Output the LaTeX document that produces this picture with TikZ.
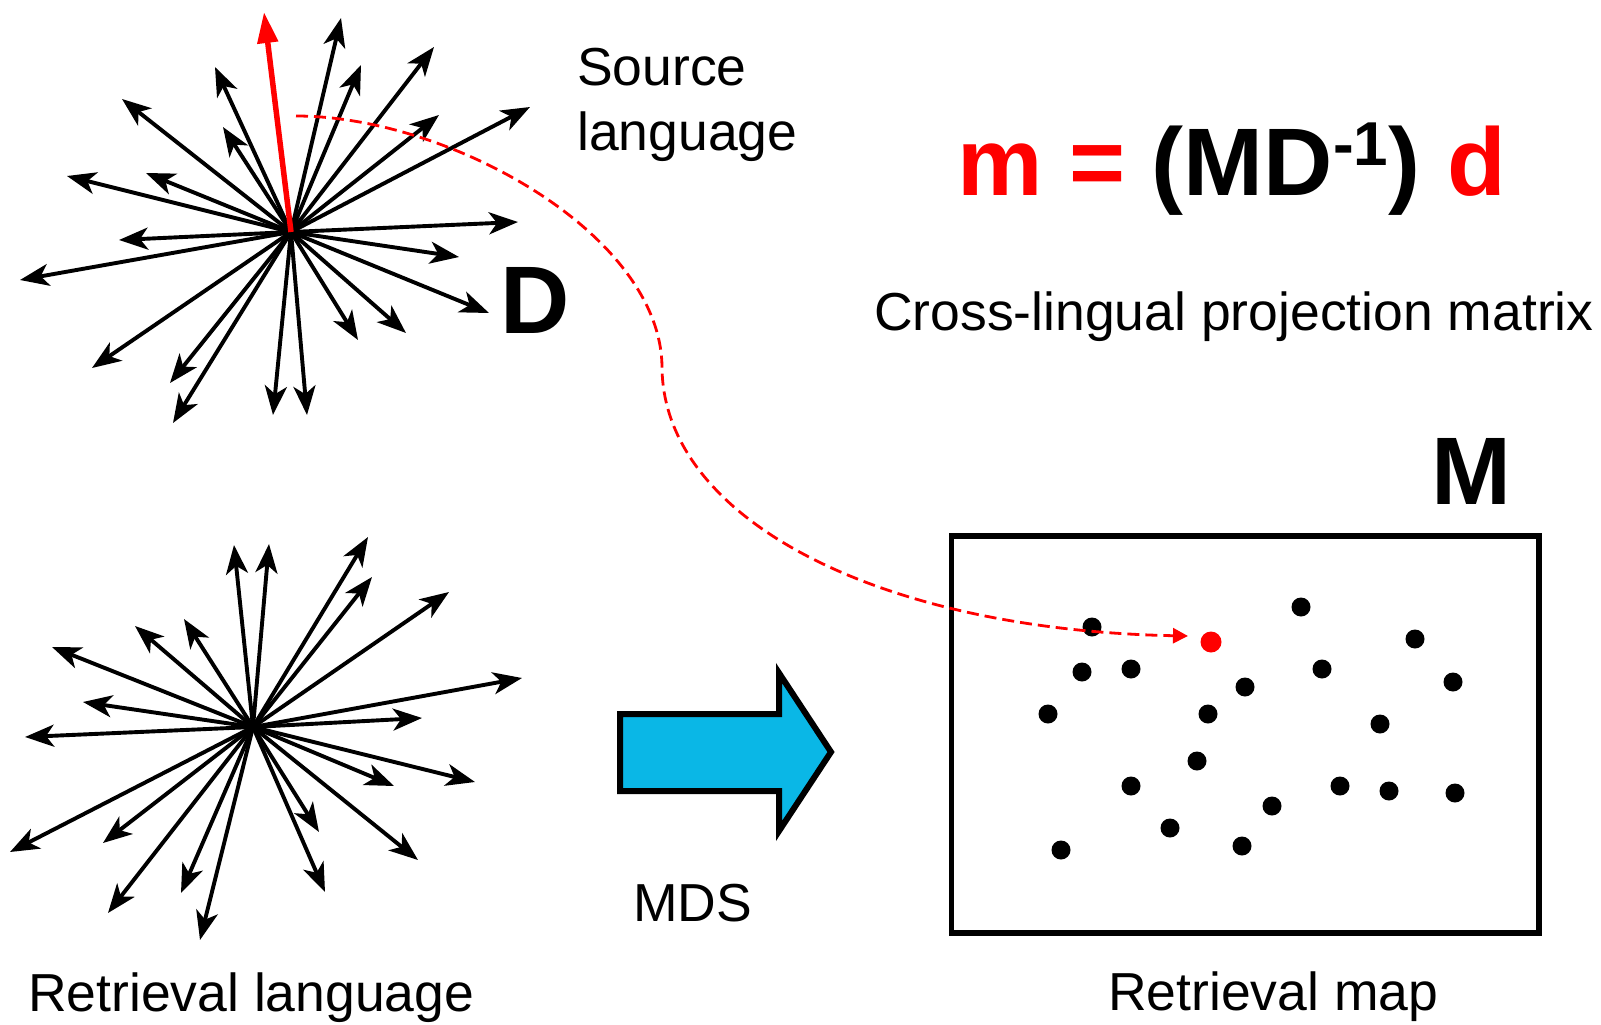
\documentclass[tikz,border=0pt]{standalone}
\usepackage{fontspec}
\setmainfont{Liberation Sans}
\usetikzlibrary{arrows.meta}
\definecolor{arrowblue}{RGB}{10,183,230}
\begin{document}
\begin{tikzpicture}[x=1pt,y=-1pt,
  vec/.style={line width=3.9pt,-{Stealth[length=29pt,width=22pt,inset=8pt]}},
  redvec/.style={red,line width=5.5pt,-{Triangle[length=31pt,width=20pt]}},
  lbl/.style={inner sep=0pt,anchor=base west,font=\fontsize{53.5}{62}\selectfont},
  big/.style={inner sep=0pt,anchor=base west,font=\fontsize{96}{110}\selectfont\bfseries},
  dot/.style={circle,fill=black,inner sep=0pt,minimum size=19pt},
  reddot/.style={circle,fill=red,inner sep=0pt,minimum size=21pt},
  mapbox/.style={draw,line width=5.5pt,inner sep=0pt,minimum width=587.5pt,minimum height=397pt},
  dashcurve/.style={red,line width=2.8pt,dash pattern=on 12pt off 6pt,-{Triangle[length=15pt,width=15pt]}},
  bigarrow/.style={line width=6pt,fill=arrowblue,line join=miter}
]
\useasboundingbox (0,0) rectangle (1601,1025);

% top star (source language)
\coordinate (c1) at (291,232);
\foreach \x/\y [count=\i] in {341/18, 361/65, 434/47, 439/115, 530/107, 518/222, 459/257, 489/313, 406/333, 358/340, 307/415, 273/415, 173/423, 170/383, 92/368, 20/280, 119/240, 67/176, 146/173, 122/99, 215/67, 223/127}
{
  \coordinate (s\i) at (\x,\y);
  \draw[vec] (c1) -- (s\i);
}
\coordinate (sred) at (264,12);
\draw[redvec] (c1) -- (sred);

% bottom star (retrieval language)
\coordinate (c2) at (253,727);
\foreach \x/\y [count=\i] in {234/545, 269/544, 368/537, 372/577, 449/592, 522/678, 422/718, 475/782, 394/786, 418/860, 319/832, 325/892, 200/940, 181/893, 108/913, 103/843, 10/852, 25/737, 83/702, 52/647, 135/626, 184/619}
{
  \coordinate (r\i) at (\x,\y);
  \draw[vec] (c2) -- (r\i);
}

% labels
\node[lbl] (src1) at (577,85) {Source};
\node[lbl] (src2) at (577,150) {language};
\node[big] (D) at (500,333) {D};
\node[big] (formula) at (957,195) {\textcolor{red}{m =} (MD\raisebox{30pt}{\fontsize{62}{62}\selectfont -1}) \textcolor{red}{d}};
\node[lbl] (cross) at (874,330) {Cross-lingual projection matrix};
\node[big] (M) at (1431,504) {M};
\node[lbl] (mds) at (633,921) {MDS};
\node[lbl] (rl) at (28,1011) {Retrieval language};
\node[lbl] (rm) at (1108,1010) {Retrieval map};

% MDS arrow
\draw[bigarrow] (620,714) -- (779,714) -- (779,673) -- (831,752) -- (779,831) -- (779,791) -- (620,791) -- cycle;

% retrieval map
\node[mapbox] (map) at (1245.25,734.5) {};
\foreach \x/\y [count=\i] in {1092/627, 1301/607, 1415/639, 1082/672, 1131/669, 1245/687, 1322/669, 1453/682, 1048/714, 1208/714, 1380/724, 1197/761, 1131/786, 1340/786, 1389/791, 1455/793, 1272/806, 1170/828, 1242/846, 1061/850}
{
  \node[dot] (p\i) at (\x,\y) {};
}
\node[reddot] (q) at (1211,642) {};

% projection curve
\coordinate (ds) at (296,116);
\coordinate (dm) at (662,368);
\coordinate (de) at (1188,636);
\draw[dashcurve] (ds) .. controls (450,116) and (662,235) .. (dm) .. controls (664,520) and (880,630) .. (de);
\end{tikzpicture}
\end{document}
